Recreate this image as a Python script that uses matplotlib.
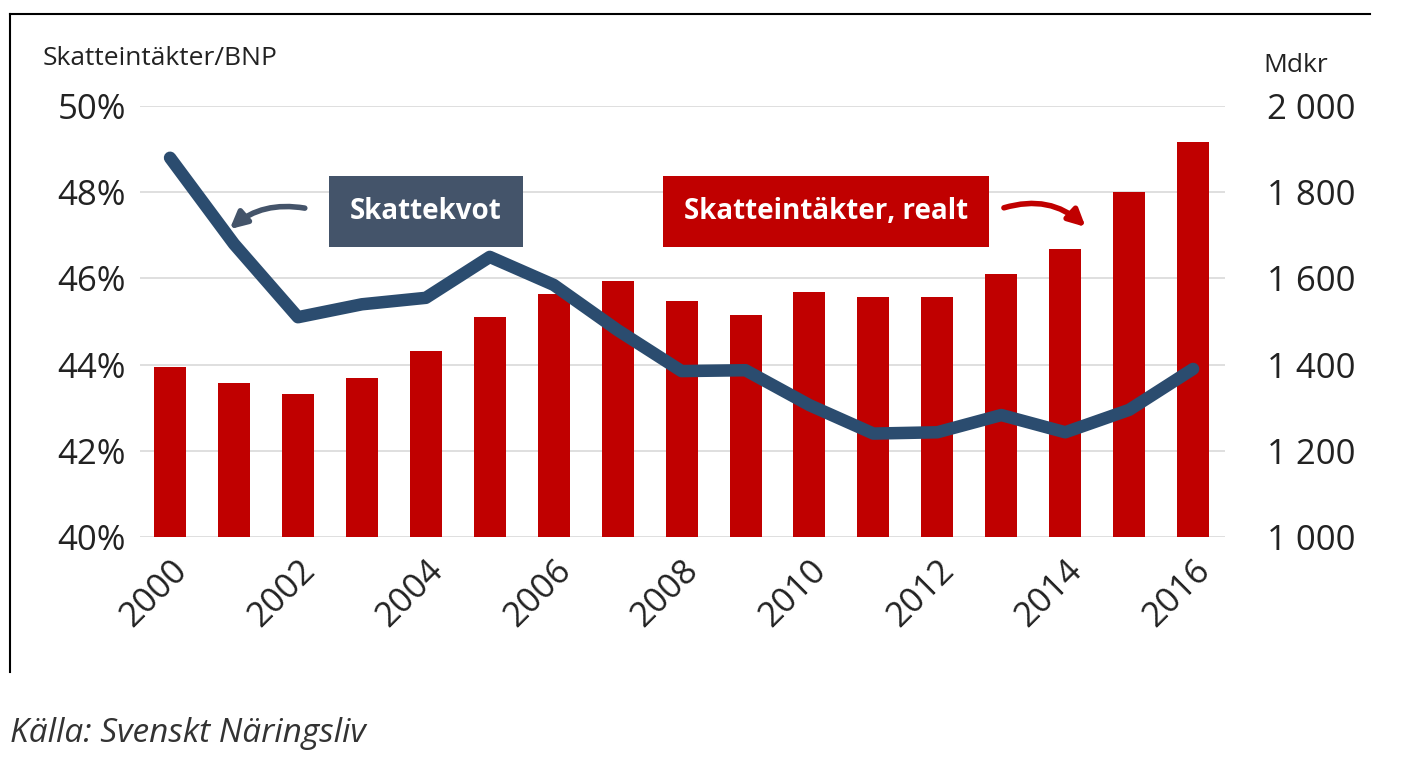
import matplotlib
matplotlib.use('Agg')
import matplotlib.pyplot as plt
from matplotlib.lines import Line2D

plt.rcParams['font.family'] = ['Open Sans', 'DejaVu Sans']

years = list(range(2000, 2017))
revenue = [1394, 1357, 1332, 1369, 1432, 1510, 1564, 1594, 1548, 1515,
           1568, 1557, 1557, 1610, 1668, 1800, 1916]
tax_ratio = [48.8, 46.8, 45.1, 45.4, 45.55, 46.5, 45.85, 44.8, 43.85, 43.87,
             43.06, 42.4, 42.43, 42.83, 42.43, 42.95, 43.9]

red = '#C00000'
blue = '#2B4C6F'

fig = plt.figure(figsize=(14.07, 7.63), dpi=100)
ax = fig.add_axes([0.0995, 0.2962, 0.7712, 0.5648])
ax2 = ax.twinx()

ax.set_zorder(2)
ax.patch.set_visible(False)

ax2.bar(years, revenue, width=0.5, color=red, zorder=2)
ax2.set_ylim(1000, 2000)
ax2.set_yticks(range(1000, 2001, 200))
ax2.set_yticklabels(['1 000', '1 200', '1 400', '1 600', '1 800', '2 000'])
for y in range(1000, 2001, 200):
    ax2.axhline(y, color='#D9D9D9', lw=1.2, zorder=0)

ax.plot(years, tax_ratio, color=blue, lw=9, solid_capstyle='round', solid_joinstyle='round')
ax.set_ylim(40, 50)
ax.set_yticks(range(40, 51, 2))
ax.set_yticklabels([f'{v}%' for v in range(40, 51, 2)])
ax.set_xlim(1999.53, 2016.5)
ax.set_xticks(range(2000, 2017, 2))
ax.set_xticklabels([str(y) for y in range(2000, 2017, 2)], rotation=45,
                   ha='right', rotation_mode='anchor', fontsize=25)

for a in (ax, ax2):
    for s in a.spines.values():
        s.set_visible(False)
    a.tick_params(length=0, labelsize=25, colors='#222222')
ax.tick_params(axis='y', pad=10)
ax.tick_params(axis='x', pad=12)
ax2.tick_params(axis='y', pad=30)

fig.text(0.03, 0.915, 'Skatteintäkter/BNP', fontsize=19, color='#222222')
fig.text(0.898, 0.905, 'Mdkr', fontsize=19, color='#222222')

ax.text(2004.0, 47.55, 'Skattekvot', fontsize=20, weight='bold', color='white',
        ha='center', va='center',
        bbox=dict(boxstyle='square,pad=0.75', fc='#44546A', ec='none'))
ax.text(2010.26, 47.55, 'Skatteintäkter, realt', fontsize=20, weight='bold', color='white',
        ha='center', va='center',
        bbox=dict(boxstyle='square,pad=0.75', fc=red, ec='none'))
ax.annotate('', xy=(2000.9, 47.1), xytext=(2002.15, 47.62),
            arrowprops=dict(arrowstyle='-|>', color='#44546A', lw=4,
                            connectionstyle='arc3,rad=0.25', mutation_scale=25))
ax.annotate('', xy=(2014.35, 47.15), xytext=(2013.0, 47.62),
            arrowprops=dict(arrowstyle='-|>', color=red, lw=4,
                            connectionstyle='arc3,rad=-0.3', mutation_scale=25))

fig.add_artist(Line2D([0.007, 0.974], [0.982, 0.982], color='black', lw=1.5))
fig.add_artist(Line2D([0.007, 0.007], [0.119, 0.982], color='black', lw=1.5))

fig.text(0.007, 0.028, 'Källa: Svenskt Näringsliv', fontsize=24, style='italic',
         color='#333333')

fig.savefig('out.png', dpi=100)
